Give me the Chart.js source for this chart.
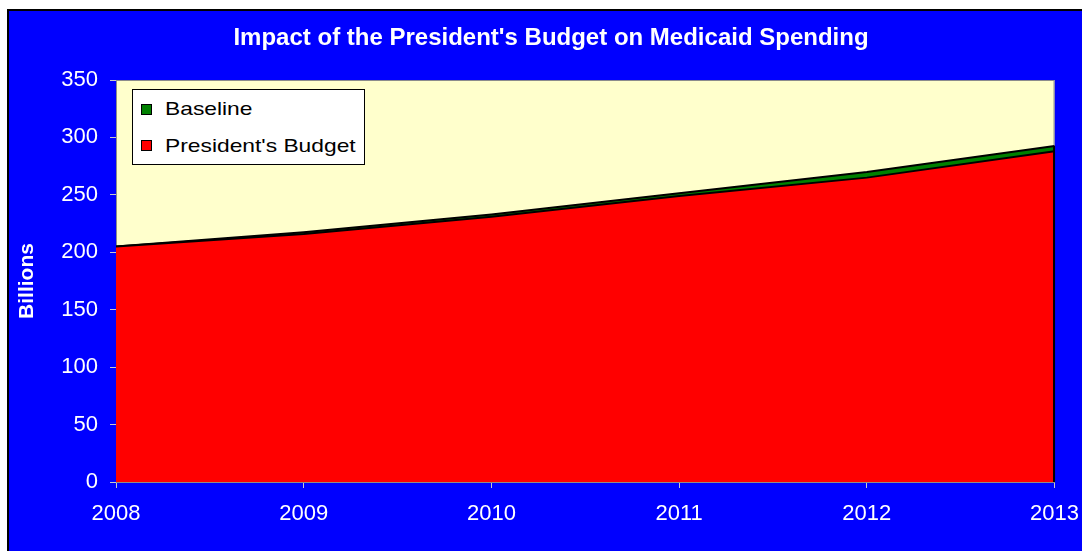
<!DOCTYPE html>
<html lang="en">
<head>
<meta charset="utf-8">
<title>Impact of the President's Budget on Medicaid Spending</title>
<script src="https://cdn.jsdelivr.net/npm/chart.js@4.4.1/dist/chart.umd.min.js"></script>
<style>
  html, body {
    margin: 0;
    padding: 0;
    width: 1082px;
    height: 551px;
    overflow: hidden;
    background: #ffffff;
  }
  #frame {
    position: absolute;
    left: 7px;
    top: 9px;
    width: 1100px;
    height: 560px;
    background: #0000ff;
    border-top: 2px solid #000000;
    border-left: 2px solid #000000;
    overflow: hidden;
  }
  #wrap {
    position: absolute;
    left: 0;
    top: 0;
    width: 1083px;
    height: 540px;
  }
  #legend {
    position: absolute;
    left: 123px;
    top: 78px;
    width: 231px;
    height: 74px;
    background: #ffffff;
    border: 1px solid #000000;
    font-family: Arial, "Liberation Sans", sans-serif;
    font-size: 19px;
    color: #000000;
  }
  #legend .sw {
    position: absolute;
    left: 8px;
    width: 9px;
    height: 9px;
    border: 1px solid #000000;
  }
  #legend .lb {
    position: absolute;
    left: 32px;
    line-height: 20px;
    white-space: nowrap;
    transform: scaleX(1.2);
    transform-origin: left center;
  }
</style>
</head>
<body>
<div id="frame">
  <div id="wrap"><canvas id="c"></canvas></div>
  <div id="legend"></div>
</div>
<script>
// Medicaid spending, billions of dollars
const years = ["2008", "2009", "2010", "2011", "2012", "2013"];
const baseline = [205, 217.5, 233, 251.5, 270, 292.5];
const presidentsBudget = [205, 216, 231, 249, 265, 288];
const yTicks = [0, 50, 100, 150, 200, 250, 300, 350];

const seriesNames = ["Baseline", "President's Budget"];
const seriesColors = ["#008000", "#ff0000"];

(function () {
  "use strict";

  const FONT = "Arial, 'Liberation Sans', sans-serif";
  const PLOT_BG = "#ffffcc";
  const AXIS_GREY = "#8c8c8c";
  const TICK_GREY = "#c8c8c8";

  // plot area: pale fill plus thin grey frame, under the areas
  const plotArea = {
    id: "plotArea",
    beforeDatasetsDraw(chart) {
      const { ctx, chartArea: a } = chart;
      ctx.save();
      ctx.fillStyle = PLOT_BG;
      ctx.fillRect(a.left, a.top, a.right - a.left, a.bottom - a.top);
      ctx.strokeStyle = AXIS_GREY;
      ctx.lineWidth = 1;
      ctx.strokeRect(a.left + 0.5, a.top + 0.5, a.right - a.left - 1, a.bottom - a.top);
      ctx.restore();
    },
    // closing edge of each area at the last year
    afterDatasetDraw(chart, args) {
      const pts = args.meta.data;
      if (!pts.length) return;
      const last = pts[pts.length - 1];
      const y0 = chart.scales.y.getPixelForValue(0);
      const ctx = chart.ctx;
      ctx.save();
      ctx.strokeStyle = "#000000";
      ctx.lineWidth = 2;
      ctx.beginPath();
      ctx.moveTo(last.x - 0.5, last.y);
      ctx.lineTo(last.x - 0.5, y0);
      ctx.stroke();
      ctx.restore();
    },
  };

  function buildLegend() {
    const box = document.getElementById("legend");
    const rows = [
      { sw: 14, lb: 9 },
      { sw: 50, lb: 45.5 },
    ];
    seriesNames.forEach(function (name, i) {
      const sw = document.createElement("div");
      sw.className = "sw";
      sw.style.top = rows[i].sw + "px";
      sw.style.background = seriesColors[i];
      box.appendChild(sw);
      const lb = document.createElement("span");
      lb.className = "lb";
      lb.style.top = rows[i].lb + "px";
      lb.textContent = name;
      box.appendChild(lb);
    });
  }

  new Chart(document.getElementById("c"), {
    type: "line",
    data: {
      labels: years,
      datasets: [
        {
          label: seriesNames[0],
          data: baseline,
          backgroundColor: seriesColors[0],
          borderColor: "#000000",
          borderWidth: 2,
          pointRadius: 0,
          fill: "origin",
          order: 2,
        },
        {
          label: seriesNames[1],
          data: presidentsBudget,
          backgroundColor: seriesColors[1],
          borderColor: "#000000",
          borderWidth: 2,
          pointRadius: 0,
          fill: "origin",
          order: 1,
        },
      ],
    },
    options: {
      responsive: true,
      maintainAspectRatio: false,
      animation: false,
      events: [],
      layout: { padding: { left: 1, right: 0, top: 0, bottom: 0 } },
      plugins: {
        legend: { display: false },
        tooltip: { enabled: false },
        title: {
          display: true,
          text: "Impact of the President's Budget on Medicaid Spending",
          color: "#ffffff",
          font: { family: FONT, size: 24, weight: "bold" },
          padding: { top: 13.4, bottom: 26.8 },
        },
      },
      scales: {
        x: {
          type: "category",
          offset: false,
          z: 1,
          border: { display: true, color: AXIS_GREY, width: 1 },
          grid: {
            offset: false,
            drawOnChartArea: false,
            drawTicks: true,
            tickLength: 6,
            tickColor: TICK_GREY,
          },
          ticks: {
            color: "#ffffff",
            font: { family: FONT, size: 22 },
            padding: 13,
            maxRotation: 0,
            autoSkip: false,
          },
          afterFit(scale) {
            scale.height = 69;
          },
        },
        y: {
          min: 0,
          max: 350,
          z: 1,
          border: { display: true, color: AXIS_GREY, width: 1 },
          grid: {
            drawOnChartArea: false,
            drawTicks: true,
            tickLength: 6,
            tickColor: TICK_GREY,
          },
          afterBuildTicks(scale) {
            scale.ticks = yTicks.map((v) => ({ value: v }));
          },
          ticks: {
            color: "#ffffff",
            font: { family: FONT, size: 22 },
            padding: 12,
          },
          title: {
            display: true,
            text: "Billions",
            color: "#ffffff",
            font: { family: FONT, size: 21, weight: "bold" },
            padding: { top: 5, bottom: 0 },
          },
          afterFit(scale) {
            scale.width = 106;
          },
        },
      },
    },
    plugins: [plotArea],
  });

  buildLegend();
})();
</script>
</body>
</html>
